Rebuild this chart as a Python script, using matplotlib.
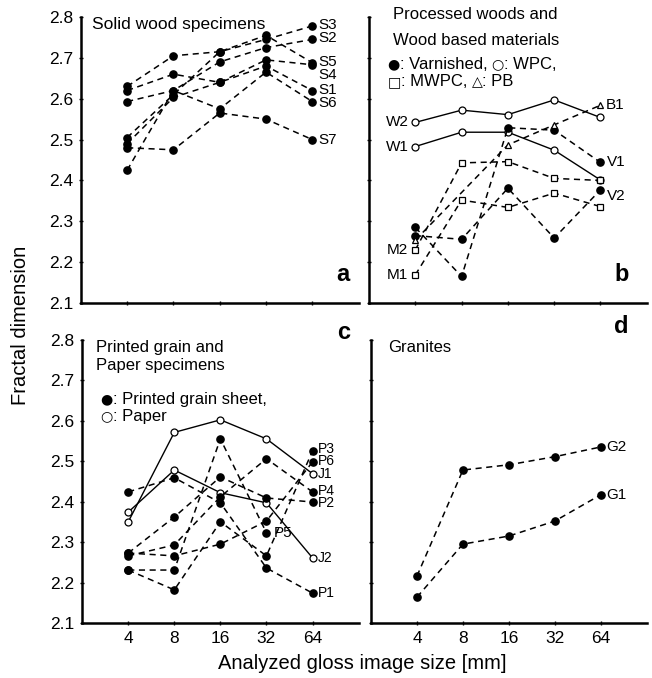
import numpy as np
import matplotlib.pyplot as plt

plt.rcParams['font.family'] = ['Liberation Sans', 'DejaVu Sans']

# gloss image sizes [mm]
sizes = [4, 8, 16, 32, 64]
pos = np.arange(len(sizes))

# panel a: solid wood specimens
solid = {
    'S3': [2.630, 2.705, 2.715, 2.745, 2.778],
    'S2': [2.593, 2.620, 2.690, 2.725, 2.745],
    'S5': [2.505, 2.610, 2.715, 2.755, 2.688],
    'S4': [2.620, 2.660, 2.640, 2.695, 2.683],
    'S1': [2.490, 2.603, 2.640, 2.680, 2.620],
    'S6': [2.425, 2.620, 2.575, 2.665, 2.593],
    'S7': [2.480, 2.475, 2.565, 2.550, 2.500],
}

# panel b: processed woods / wood based materials
wpc = {
    'W2': [2.542, 2.572, 2.561, 2.597, 2.554],
    'W1': [2.483, 2.518, 2.518, 2.474, 2.401],
}
varnished = {
    'V1': [2.285, 2.165, 2.529, 2.523, 2.444],
    'V2': [2.265, 2.256, 2.381, 2.259, 2.377],
}
mwpc = {
    'M2': [2.230, 2.443, 2.446, 2.405, 2.400],
    'M1': [2.169, 2.352, 2.334, 2.369, 2.336],
}
pb_idx = [0, 2, 3, 4]
pb_vals = [2.254, 2.487, 2.536, 2.584]

# panel c: printed grain and paper
printed = {
    'P1': [2.424, 2.459, 2.397, 2.236, 2.174],
    'P2': [2.273, 2.362, 2.461, 2.409, 2.399],
    'P3': [2.231, 2.182, 2.350, 2.266, 2.525],
    'P4': [2.266, 2.293, 2.412, 2.506, 2.424],
    'P6': [2.273, 2.266, 2.295, 2.352, 2.498],
}
p5_vals = [2.231, 2.231, 2.555, 2.323]
paper = {
    'J1': [2.350, 2.571, 2.602, 2.555, 2.469],
    'J2': [2.374, 2.478, 2.422, 2.397, 2.261],
}

# panel d: granites
granite = {
    'G2': [2.216, 2.478, 2.491, 2.511, 2.535],
    'G1': [2.164, 2.295, 2.315, 2.352, 2.417],
}

fig = plt.figure(figsize=(6.52, 6.78), dpi=100)
ax_a = fig.add_axes([0.124, 0.553, 0.426, 0.422])
ax_b = fig.add_axes([0.566, 0.553, 0.426, 0.422])
ax_c = fig.add_axes([0.126, 0.081, 0.424, 0.418])
ax_d = fig.add_axes([0.569, 0.081, 0.423, 0.418])
renderer = fig.canvas.get_renderer()

dash = dict(color='black', ls=(0, (4, 3)), lw=1.1)
solid_ln = dict(color='black', ls='-', lw=1.0)
filled = dict(marker='o', ms=5.2, mfc='black', mec='black')
hollow = dict(marker='o', ms=5, mfc='white', mec='black', mew=0.9)
square = dict(marker='s', ms=4.5, mfc='white', mec='black', mew=0.9)
tri = dict(marker='^', ms=5, mfc='white', mec='black', mew=0.9)
lab_fs = 11
small_fs = 10
letter = dict(fontsize=17, fontweight='bold', ha='center', va='center')
SYM = ['DejaVu Sans']
TXT = ['Liberation Sans']


# write a line made of pieces, symbols in DejaVu, words in Liberation
def key_line(ax, x, y, parts, fs=12):
    off = 0
    for s, fam in parts:
        if s == ' ':
            off += fs * 0.35
            continue
        size = fs * 0.85 if fam == SYM else fs
        t = ax.annotate(s, (x, y), xytext=(off, 0), textcoords='offset pixels',
                        fontsize=size, family=fam, va='center', ha='left')
        off += t.get_window_extent(renderer).width


for ax in (ax_a, ax_b, ax_c, ax_d):
    ax.set_xlim(-1, 5)
    ax.set_ylim(2.1, 2.8)
    ax.set_yticks(np.arange(2.1, 2.81, 0.1))
    ax.set_xticks(pos)
    ax.spines['top'].set_visible(False)
    ax.spines['right'].set_visible(False)
    ax.spines['left'].set_linewidth(1.8)
    ax.spines['bottom'].set_linewidth(1.8)
    ax.tick_params(direction='inout', length=3, width=1, labelsize=12.5, pad=4)

for ax in (ax_a, ax_b):
    ax.set_xticklabels([])
for ax in (ax_b, ax_d):
    ax.set_yticklabels([])
for ax in (ax_a, ax_c):
    ax.set_yticklabels([f'{v:.1f}' for v in np.arange(2.1, 2.81, 0.1)])
for ax in (ax_c, ax_d):
    ax.set_xticklabels([str(s) for s in sizes])

# panel a
for name, vals in solid.items():
    ax_a.plot(pos, vals, **dash, **filled)
label_y_a = {'S3': 2.781, 'S2': 2.748, 'S5': 2.691, 'S4': 2.659, 'S1': 2.622,
             'S6': 2.589, 'S7': 2.500}
for name, yv in label_y_a.items():
    ax_a.text(4.12, yv, name, fontsize=lab_fs, va='center', ha='left')
ax_a.text(-0.75, 2.80, 'Solid wood specimens', fontsize=12.5, va='top')
ax_a.text(4.67, 2.17, 'a', **letter)

# panel b
for name, vals in wpc.items():
    ax_b.plot(pos, vals, **solid_ln, **hollow)
    ax_b.text(-0.15, vals[0], name, fontsize=lab_fs, va='center', ha='right')
for name, vals in varnished.items():
    ax_b.plot(pos, vals, **dash, **filled)
    ax_b.text(4.15, vals[-1] - (0.0 if name == 'V1' else 0.015), name,
              fontsize=lab_fs, va='center', ha='left')
for name, vals in mwpc.items():
    ax_b.plot(pos, vals, **dash, **square)
    ax_b.text(-0.15, vals[0], name, fontsize=lab_fs, va='center', ha='right')
ax_b.plot(pb_idx, pb_vals, **dash, **tri)
ax_b.text(4.12, pb_vals[-1], 'B1', fontsize=lab_fs, va='center', ha='left')
ax_b.text(-0.48, 2.805, 'Processed woods and', fontsize=12, va='center')
ax_b.text(-0.48, 2.742, 'Wood based materials', fontsize=12, va='center')
key_line(ax_b, -0.6, 2.684, [('●', SYM), (': Varnished,', TXT), (' ', None),
                             ('○', SYM), (': WPC,', TXT)])
key_line(ax_b, -0.6, 2.641, [('□', SYM), (': MWPC,', TXT), (' ', None),
                             ('△', SYM), (': PB', TXT)])
ax_b.text(4.45, 2.17, 'b', **letter)

# panel c
for name, vals in paper.items():
    ax_c.plot(pos, vals, **solid_ln, **hollow)
for name, vals in printed.items():
    ax_c.plot(pos, vals, **dash, **filled)
ax_c.plot(pos[:4], p5_vals, **dash, **filled)
label_y_c = {'P3': 2.531, 'P6': 2.500, 'J1': 2.468, 'P4': 2.427, 'P2': 2.396,
             'J2': 2.261, 'P1': 2.174}
for name, yv in label_y_c.items():
    ax_c.text(4.12, yv, name, fontsize=small_fs, va='center', ha='left')
ax_c.text(3.15, p5_vals[-1], 'P5', fontsize=lab_fs, va='center', ha='left')
ax_c.text(-0.7, 2.78, 'Printed grain and', fontsize=12, va='center')
ax_c.text(-0.7, 2.735, 'Paper specimens', fontsize=12, va='center')
key_line(ax_c, -0.6, 2.652, [('●', SYM), (': Printed grain sheet,', TXT)])
key_line(ax_c, -0.6, 2.61, [('○', SYM), (': Paper', TXT)])
ax_c.text(4.67, 2.817, 'c', **letter)

# panel d
for name, vals in granite.items():
    ax_d.plot(pos, vals, **dash, **filled)
    ax_d.text(4.12, vals[-1], name, fontsize=lab_fs, va='center', ha='left')
ax_d.text(-0.62, 2.78, 'Granites', fontsize=12, va='center')
ax_d.text(4.45, 2.832, 'd', **letter)

fig.text(0.032, 0.52, 'Fractal dimension', rotation=90, fontsize=14.5,
         ha='center', va='center')
fig.text(0.555, 0.022, 'Analyzed gloss image size [mm]', fontsize=14.5,
         ha='center', va='center')

fig.savefig('out.png', dpi=100)
